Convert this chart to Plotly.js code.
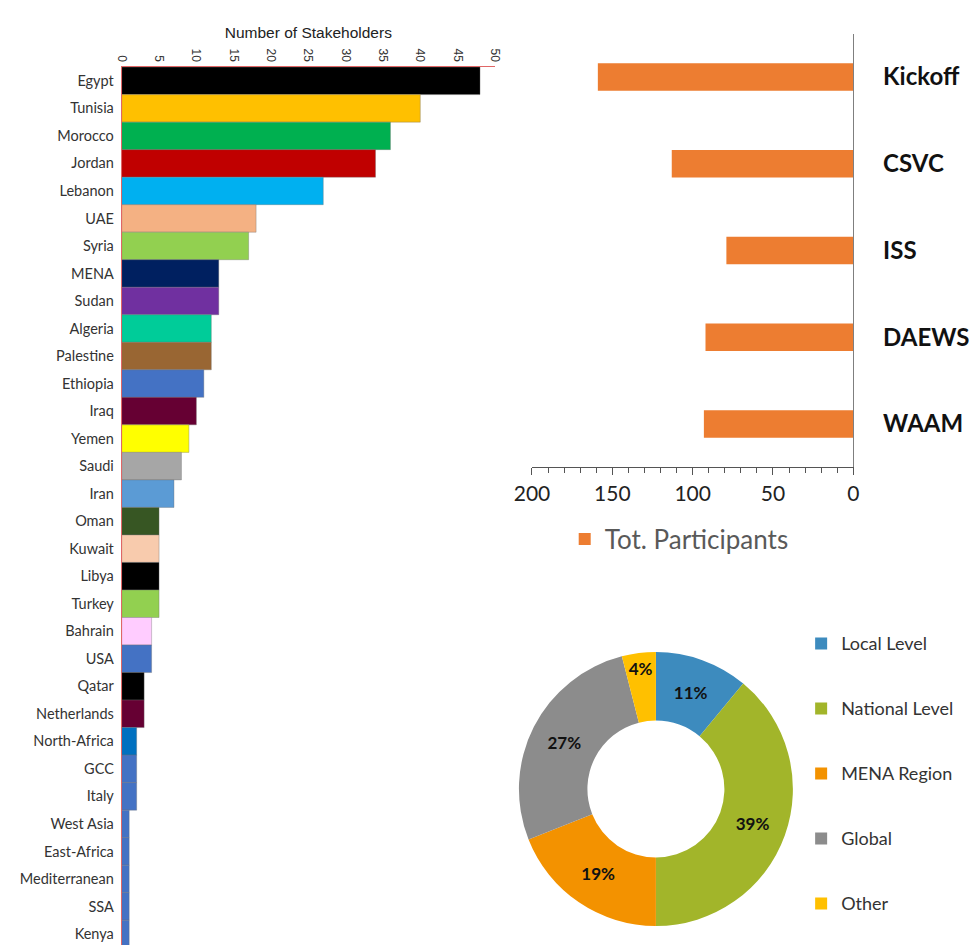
<!DOCTYPE html>
<html><head><meta charset="utf-8">
<script src="https://cdn.plot.ly/plotly-3.0.1.min.js"></script>
<style>html,body{margin:0;padding:0;background:#fff}#chart{width:977px;height:945px}</style>
</head><body><div id="chart"></div>
<script>
// Left chart: stakeholders per country
const countries = ['Egypt','Tunisia','Morocco','Jordan','Lebanon','UAE','Syria','MENA','Sudan','Algeria','Palestine','Ethiopia','Iraq','Yemen','Saudi','Iran','Oman','Kuwait','Libya','Turkey','Bahrain','USA','Qatar','Netherlands','North-Africa','GCC','Italy','West Asia','East-Africa','Mediterranean','SSA','Kenya'];
const stakeholders = [48,40,36,34,27,18,17,13,13,12,12,11,10,9,8,7,5,5,5,5,4,4,3,3,2,2,2,1,1,1,1,1];
const countryColors = ['#000000','#FFC000','#00B050','#C00000','#00B0F0','#F4B183','#92D050','#002060','#7030A0','#00CC99','#996633','#4472C4','#660033','#FFFF00','#A6A6A6','#5B9BD5','#375623','#F8CBAD','#000000','#92D050','#FFCCFF','#4472C4','#000000','#660033','#0070C0','#4472C4','#4472C4','#4472C4','#4472C4','#4472C4','#4472C4','#4472C4'];
const stakeholderTicks = [0,5,10,15,20,25,30,35,40,45,50];

// Top right chart: participants per event
const events = ['Kickoff','CSVC','ISS','DAEWS','WAAM'];
const participants = [159,113,79,92,93];
const participantTicks = [200,150,100,50,0];

// Donut: stakeholder level
const levels = ['Local Level','National Level','MENA Region','Global','Other'];
const levelShares = [11,39,19,27,4];
const levelColors = ['#3D8BBE','#A2B52A','#F39200','#8C8C8C','#FFC000'];

const pad = '\u00a0';
const legendLabels = levels.map(l => pad + '<br><span style="font-size:18px">' + l + '</span><br>' + pad);

const traces = [
  {
    type: 'bar', orientation: 'h',
    x: stakeholders, y: countries,
    xaxis: 'x', yaxis: 'y', width: 1,
    marker: {color: countryColors, line: {color: 'rgba(110,110,110,0.45)', width: 0.8}},
    showlegend: false, hoverinfo: 'none'
  },
  {
    type: 'bar', orientation: 'h',
    x: participants, y: events,
    xaxis: 'x2', yaxis: 'y2', width: 0.316,
    marker: {color: '#ED7D31'},
    name: 'Tot. Participants', legend: 'legend', showlegend: true, hoverinfo: 'none'
  },
  {
    type: 'pie',
    labels: legendLabels, values: levelShares,
    sort: false, direction: 'clockwise', rotation: 0,
    hole: 0.5,
    domain: {x: [0.531, 0.8117], y: [0.0201, 0.3100]},
    marker: {colors: levelColors, line: {width: 0}},
    texttemplate: '%{percent:.0%}',
    textposition: 'inside', insidetextorientation: 'horizontal',
    textfont: {family: 'Lato, sans-serif', size: 17, color: '#111', weight: 'bold'},
    legend: 'legend2', hoverinfo: 'none'
  }
];

const layout = {
  width: 977, height: 945,
  margin: {l: 0, r: 0, t: 0, b: 0},
  paper_bgcolor: '#ffffff', plot_bgcolor: 'rgba(0,0,0,0)',
  uniformtext: {minsize: 17, mode: 'show'},
  xaxis: {
    domain: [0.1246, 0.5066], anchor: 'y', side: 'top',
    range: [0, 50], tickmode: 'array', tickvals: stakeholderTicks,
    tickangle: 90, ticks: '',
    tickfont: {family: 'Liberation Sans, Arial, sans-serif', size: 12, color: '#333'},
    showline: true, linecolor: '#E06666', linewidth: 1,
    showgrid: false, zeroline: false,
    title: {text: 'Number of Stakeholders', font: {family: 'Liberation Sans, Arial, sans-serif', size: 15.5, color: '#222'}, standoff: 6}
  },
  yaxis: {
    domain: [0, 0.929], anchor: 'x', type: 'category',
    range: [31.4, -0.5], autorange: false,
    showline: true, linecolor: '#E06666', linewidth: 1,
    ticks: '', ticklabelstandoff: 4,
    tickfont: {family: 'Lato, sans-serif', size: 14.5, color: '#333'},
    showgrid: false, zeroline: false
  },
  xaxis2: {
    domain: [0.5445, 0.8734], anchor: 'y2',
    range: [200, 0], tickmode: 'array', tickvals: participantTicks,
    ticks: 'outside', ticklen: 7, tickcolor: '#555', tickwidth: 1,
    minor: {tickmode: 'linear', tick0: 0, dtick: 10, ticks: 'outside', ticklen: 5, tickcolor: '#555'},
    showline: true, linecolor: '#555', linewidth: 1,
    tickfont: {family: 'Lato, sans-serif', size: 21, color: '#222'},
    showgrid: false, zeroline: false
  },
  yaxis2: {
    domain: [0.5054, 0.9644], anchor: 'x2', side: 'right', type: 'category',
    range: [4.5, -0.5], autorange: false,
    showline: true, linecolor: '#7f7f7f', linewidth: 1,
    ticks: '', ticklabelstandoff: 24,
    tickfont: {family: 'Lato, sans-serif', size: 24, color: '#111', weight: 'bold'},
    showgrid: false, zeroline: false
  },
  legend: {
    x: 0.578, xanchor: 'left', y: 0.4296, yanchor: 'middle',
    font: {family: 'Lato, sans-serif', size: 26, color: '#595959'},
    bgcolor: 'rgba(0,0,0,0)'
  },
  legend2: {
    x: 0.82, xanchor: 'left', y: 0.3587, yanchor: 'top',
    font: {family: 'Lato, sans-serif', size: 15.9, color: '#333'},
    valign: 'middle', bgcolor: 'rgba(0,0,0,0)'
  },
  showlegend: true
};

Plotly.newPlot('chart', traces, layout, {displayModeBar: false, staticPlot: true});
</script>
</body></html>
